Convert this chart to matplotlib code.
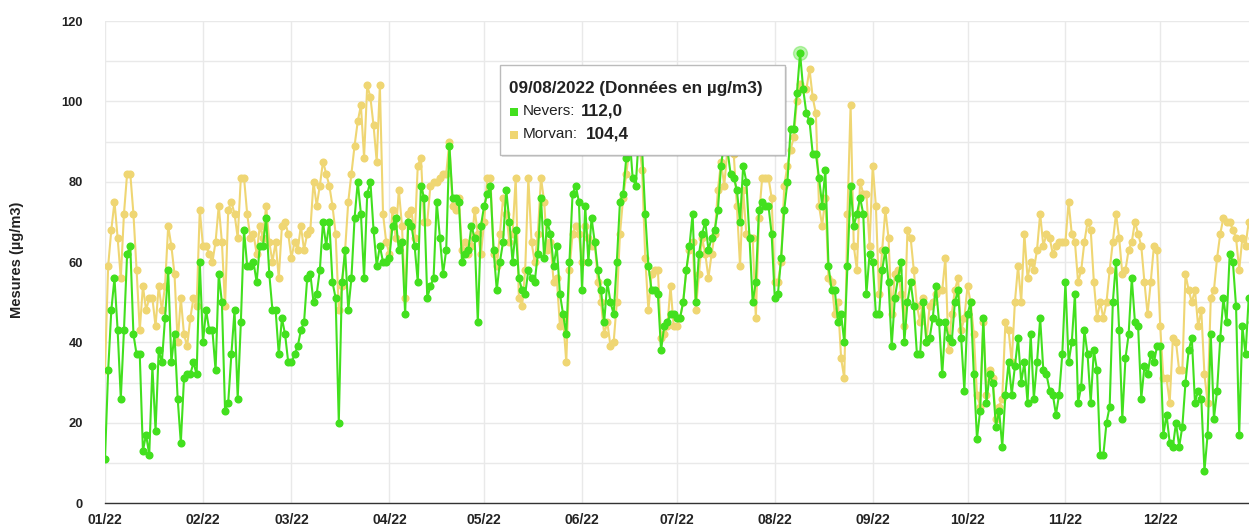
import matplotlib.pyplot as plt
import matplotlib.dates as mdates
import pandas as pd
from matplotlib.patches import Rectangle
from matplotlib.ticker import MultipleLocator

plt.rcParams['font.family'] = ['Liberation Sans', 'DejaVu Sans']

dates = pd.date_range("2022-01-01", "2022-12-31", freq="D")

# daily values, one line per month (Jan .. Dec)
nevers = (
    [11, 33, 48, 56, 43, 26, 43, 62, 64, 42, 37, 37, 13, 17, 12, 34, 18, 38, 35, 46, 58, 35, 42, 26, 15, 31, 32, 32, 35, 32, 60]
    + [40, 48, 43, 43, 33, 57, 50, 23, 25, 37, 48, 26, 45, 68, 59, 59, 60, 55, 64, 64, 71, 57, 48, 48, 37, 46, 42, 35]
    + [35, 37, 39, 43, 45, 56, 57, 50, 52, 58, 70, 64, 70, 55, 51, 20, 55, 63, 48, 56, 71, 80, 72, 56, 77, 80, 68, 59, 64, 60, 60]
    + [61, 69, 71, 63, 65, 47, 70, 69, 64, 55, 79, 76, 51, 54, 56, 75, 66, 57, 63, 89, 76, 76, 75, 60, 62, 63, 69, 66, 45, 69]
    + [74, 77, 79, 63, 53, 60, 65, 78, 70, 60, 68, 56, 53, 52, 58, 56, 55, 62, 76, 61, 70, 67, 59, 64, 52, 47, 42, 60, 77, 79, 75]
    + [53, 74, 60, 71, 65, 58, 53, 45, 55, 50, 47, 60, 75, 77, 86, 92, 81, 79, 92, 88, 72, 59, 53, 53, 52, 38, 44, 45, 47, 47]
    + [46, 46, 50, 58, 64, 72, 50, 62, 67, 70, 63, 66, 68, 73, 84, 90, 88, 82, 81, 78, 70, 84, 80, 66, 50, 55, 73, 75, 74, 74, 67]
    + [51, 52, 61, 73, 80, 93, 93, 102, 112.0, 103, 97, 95, 87, 87, 81, 74, 83, 59, 53, 53, 45, 47, 40, 59, 79, 69, 72, 76, 72, 52, 62]
    + [60, 47, 47, 58, 63, 55, 39, 51, 56, 60, 40, 50, 55, 49, 37, 37, 50, 40, 41, 46, 54, 45, 32, 45, 41, 40, 50, 53, 41, 28]
    + [47, 50, 32, 16, 23, 46, 25, 32, 30, 19, 23, 14, 27, 35, 27, 34, 41, 30, 35, 25, 42, 26, 35, 46, 33, 32, 28, 27, 22, 27, 37]
    + [55, 35, 40, 52, 25, 29, 43, 37, 25, 38, 33, 12, 12, 20, 24, 50, 60, 43, 21, 36, 42, 56, 45, 44, 26, 34, 32, 37, 35, 39]
    + [39, 17, 22, 15, 14, 20, 14, 19, 30, 38, 41, 25, 28, 26, 8, 17, 42, 21, 28, 41, 51, 45, 62, 60, 49, 17, 44, 37, 51, 45, 38]
)

morvan = (
    [33, 59, 68, 75, 66, 56, 72, 82, 82, 72, 58, 43, 54, 48, 51, 51, 44, 54, 48, 54, 69, 64, 57, 40, 51, 42, 39, 46, 51, 49, 73]
    + [64, 64, 62, 60, 65, 74, 65, 49, 73, 75, 72, 66, 81, 81, 72, 66, 67, 62, 69, 66, 74, 65, 60, 65, 56, 69, 70, 67]
    + [61, 65, 63, 69, 63, 67, 68, 80, 74, 79, 85, 82, 79, 74, 67, 48, 54, 63, 75, 82, 89, 95, 99, 86, 104, 101, 94, 85, 104, 72, 65]
    + [62, 73, 66, 78, 69, 51, 72, 73, 66, 84, 86, 70, 70, 79, 80, 80, 81, 82, 82, 90, 74, 73, 76, 63, 65, 62, 64, 73, 67, 62]
    + [70, 81, 81, 62, 59, 67, 76, 72, 65, 67, 81, 51, 49, 58, 81, 65, 60, 67, 81, 75, 63, 65, 55, 56, 44, 46, 35, 58, 67, 69, 67]
    + [60, 69, 66, 64, 65, 55, 50, 42, 45, 39, 40, 50, 67, 76, 82, 88, 90, 88, 90, 83, 61, 48, 57, 58, 58, 41, 42, 44, 54, 44]
    + [44, 46, 50, 58, 63, 65, 48, 57, 66, 62, 56, 62, 67, 78, 85, 79, 88, 92, 87, 74, 59, 78, 67, 66, 66, 46, 71, 81, 81, 81, 76]
    + [55, 55, 60, 79, 84, 88, 91, 100, 104.4, 103, 103, 108, 101, 97, 74, 69, 76, 56, 55, 47, 50, 36, 31, 72, 99, 64, 58, 80, 77, 77, 64]
    + [84, 74, 52, 63, 73, 66, 47, 57, 58, 52, 44, 68, 66, 58, 49, 45, 51, 40, 49, 50, 52, 53, 53, 61, 38, 47, 53, 56, 43, 46]
    + [54, 50, 42, 27, 24, 45, 27, 33, 31, 21, 24, 26, 45, 43, 35, 50, 59, 50, 67, 56, 60, 58, 63, 72, 64, 67, 66, 62, 64, 65, 65]
    + [65, 75, 67, 65, 55, 58, 65, 70, 68, 55, 46, 50, 46, 50, 58, 65, 72, 66, 57, 58, 63, 65, 70, 67, 64, 55, 47, 55, 64, 63]
    + [44, 31, 31, 25, 41, 40, 33, 33, 57, 53, 50, 53, 44, 48, 32, 25, 51, 53, 61, 67, 71, 70, 70, 68, 66, 58, 66, 64, 70, 66, 70]
)

hover_date = pd.Timestamp("2022-08-09")
green = "#42e01e"
yellow = "#efd673"

fig = plt.figure(figsize=(12.49, 5.27), dpi=100)
ax = fig.add_axes([105 / 1249, 24 / 527, 1150 / 1249, 482 / 527])

ax.plot(dates, morvan, color=yellow, lw=1.5, marker="o", ms=4.8, zorder=3)
ax.plot(dates, nevers, color=green, lw=1.5, marker="o", ms=4.8, zorder=4)

i = dates.get_loc(hover_date)
ax.plot(dates[i], nevers[i], "o", color=green, ms=10, alpha=0.35, zorder=5)

ax.set_xlim(dates[0], dates[-1])
ax.set_ylim(0, 120)
ax.yaxis.set_major_locator(MultipleLocator(20))
ax.yaxis.set_minor_locator(MultipleLocator(10))
ax.xaxis.set_major_locator(mdates.MonthLocator())
ax.xaxis.set_major_formatter(mdates.DateFormatter("%m/%y"))

ax.grid(True, which="both", axis="y", color="#e9e9e9", lw=1)
ax.grid(True, which="major", axis="x", color="#e9e9e9", lw=1)
ax.set_axisbelow(True)
for s in ["top", "right", "left"]:
    ax.spines[s].set_visible(False)
ax.spines["bottom"].set_color("#333333")
ax.spines["bottom"].set_linewidth(1)

ax.tick_params(axis="both", which="both", length=0, labelcolor="#222222")
ax.tick_params(axis="y", labelsize=9.3, pad=16)
ax.tick_params(axis="x", labelsize=10, pad=7)
for lab in ax.get_xticklabels() + ax.get_yticklabels():
    lab.set_fontweight("bold")

fig.text(17 / 1249, 1 - 260 / 527, "Mesures (µg/m3)", rotation=90, ha="center", va="center",
         fontsize=10.5, fontweight="bold", color="#222222")


# tooltip
def px(x, y):
    return x / 1249, 1 - y / 527


x0, y0 = px(500, 155)
w, h = 285 / 1249, 90 / 527
shadow = Rectangle((x0 + 2 / 1249, y0 - 2 / 527), w, h, transform=fig.transFigure,
                   facecolor="#000000", alpha=0.12, edgecolor="none", zorder=9)
box = Rectangle((x0, y0), w, h, transform=fig.transFigure, facecolor="white",
                edgecolor="#bbbbbb", lw=1, zorder=10)
fig.add_artist(shadow)
fig.add_artist(box)

fig.text(*px(509, 88), "09/08/2022 (Données en µg/m3)", fontsize=12.3, fontweight="bold",
         va="center", color="#222222", zorder=11)
fig.add_artist(Rectangle(px(510, 116), 8 / 1249, 8 / 527, transform=fig.transFigure,
                         facecolor=green, edgecolor="none", zorder=11))
fig.text(*px(523, 111), "Nevers:", fontsize=11, va="center", color="#222222", zorder=11)
fig.text(*px(581, 111), f"{nevers[i]:.1f}".replace(".", ","), fontsize=12.3, fontweight="bold",
         va="center", color="#222222", zorder=11)
fig.add_artist(Rectangle(px(510, 139), 8 / 1249, 8 / 527, transform=fig.transFigure,
                         facecolor=yellow, edgecolor="none", zorder=11))
fig.text(*px(523, 134), "Morvan:", fontsize=11, va="center", color="#222222", zorder=11)
fig.text(*px(586, 134), f"{morvan[i]:.1f}".replace(".", ","), fontsize=12.3, fontweight="bold",
         va="center", color="#222222", zorder=11)

fig.savefig("out.png", dpi=100)
